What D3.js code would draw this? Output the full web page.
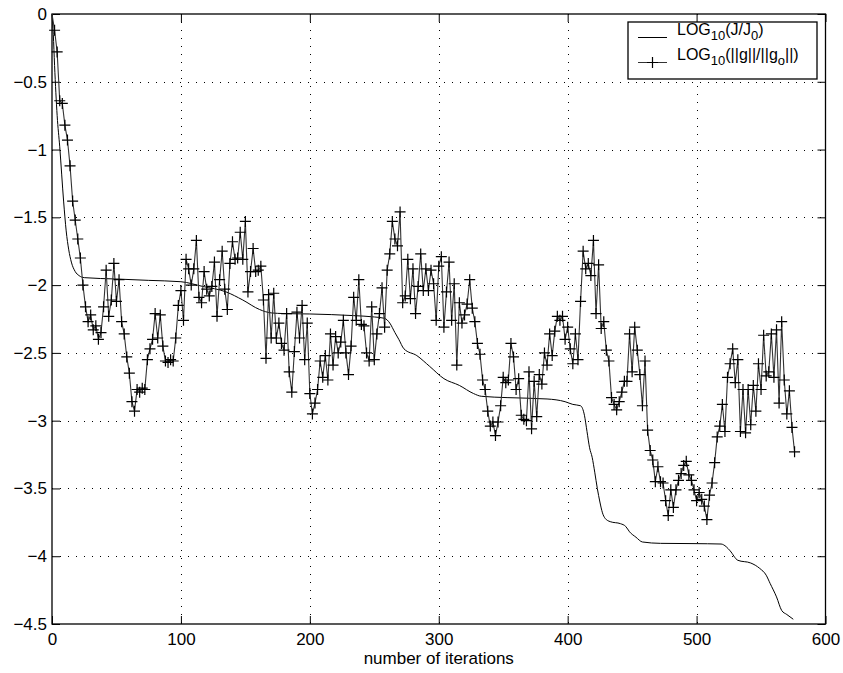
<!DOCTYPE html>
<html lang="en">
<head>
    <meta charset="UTF-8">
    <title>Convergence history</title>
    <script src="https://d3js.org/d3.v7.min.js"></script>
    <style>
        body { margin: 0; background: #fff; }
        text { font-family: "Liberation Sans", Arial, Helvetica, sans-serif; }
    </style>
</head>
<body>
    <script>
        // DATA
        // LOG10(||g||/||g0||), one value every 2 iterations (0, 2, 4, ... 576)
        var gStep = 2;
        var gValues = [
            0, -0.12, -0.28, -0.64, -0.66, -0.82, -0.93, -1.12, -1.38, -1.52,
            -1.66, -1.80, -2.00, -2.16, -2.27, -2.22, -2.33, -2.30, -2.40, -2.35,
            -2.16, -1.89, -2.23, -2.11, -1.84, -2.12, -1.96, -2.27, -2.36, -2.53,
            -2.65, -2.86, -2.93, -2.77, -2.79, -2.76, -2.77, -2.55, -2.47, -2.40,
            -2.21, -2.39, -2.22, -2.45, -2.56, -2.57, -2.55, -2.56, -2.39, -2.15,
            -2.04, -2.26, -1.81, -1.88, -2.00, -1.88, -1.67, -2.09, -2.13, -1.90,
            -2.03, -2.08, -2.01, -1.83, -2.23, -1.96, -1.75, -2.03, -2.18, -1.84,
            -1.68, -1.81, -1.80, -1.61, -1.81, -1.53, -2.05, -1.90, -1.73, -1.90,
            -1.89, -1.86, -2.11, -2.54, -2.07, -2.39, -2.06, -2.39, -2.28, -2.43,
            -2.48, -2.21, -2.64, -2.79, -2.49, -2.20, -2.39, -2.15, -2.55, -2.28,
            -2.80, -2.95, -2.87, -2.77, -2.56, -2.68, -2.52, -2.70, -2.36, -2.59,
            -2.38, -2.50, -2.42, -2.26, -2.50, -2.66, -2.45, -2.09, -2.26, -1.96,
            -2.29, -2.30, -2.50, -2.56, -2.16, -2.55, -2.36, -2.21, -2.02, -2.31,
            -1.89, -1.77, -1.53, -1.66, -1.71, -1.46, -2.13, -2.08, -1.81, -2.10,
            -1.88, -2.21, -2.01, -1.77, -2.04, -1.88, -2.04, -1.89, -1.99, -2.26,
            -1.86, -1.79, -2.31, -2.05, -1.83, -2.26, -1.99, -2.59, -2.13, -2.28,
            -2.22, -2.14, -1.96, -2.17, -2.27, -2.43, -2.51, -2.70, -2.77, -2.93,
            -3.04, -3.01, -3.11, -3.01, -2.89, -2.68, -2.72, -2.70, -2.43, -2.53,
            -2.77, -2.69, -2.96, -2.99, -3.00, -2.64, -3.06, -2.71, -2.97, -2.66,
            -2.73, -2.50, -2.59, -2.36, -2.52, -2.34, -2.23, -2.26, -2.23, -2.40,
            -2.31, -2.47, -2.58, -2.36, -2.55, -2.12, -1.75, -1.88, -1.84, -1.93,
            -1.67, -2.21, -1.85, -2.32, -2.27, -2.48, -2.56, -2.83, -2.88, -2.92,
            -2.86, -2.79, -2.71, -2.71, -2.36, -2.64, -2.31, -2.48, -2.66, -2.89,
            -2.56, -3.07, -3.22, -3.29, -3.45, -3.34, -3.45, -3.46, -3.59, -3.70,
            -3.51, -3.64, -3.51, -3.44, -3.39, -3.33, -3.30, -3.40, -3.44, -3.51,
            -3.59, -3.53, -3.58, -3.63, -3.73, -3.55, -3.46, -3.31, -3.12, -3.04,
            -2.88, -3.08, -2.68, -2.58, -2.47, -2.72, -2.55, -3.08, -2.77, -3.09,
            -2.77, -3.03, -2.74, -2.93, -2.58, -2.77, -2.37, -2.67, -2.64, -2.36,
            -2.68, -2.33, -2.87, -2.27, -2.70, -2.95, -2.78, -3.05, -3.23
        ];

        // LOG10(J/J0), read at these iterations
        var jIter = [0, 1, 2, 4, 6, 9, 11, 13, 15, 18, 21, 25, 50, 75, 100,
            117, 135, 148, 161, 170, 180, 200, 234, 250, 258, 262, 266, 269, 273, 283,
            293, 304, 316, 327, 333, 353, 384, 398, 404, 410, 413, 415, 417, 419, 421,
            423, 425, 427, 429, 433, 441, 445, 448, 453, 458, 472, 498, 519, 523, 526,
            532, 542, 549, 554, 557, 562, 566, 570, 575];
        var jValues = [0, -0.15, -0.38, -0.75, -0.98, -1.38, -1.60, -1.74, -1.83, -1.90, -1.93, -1.945, -1.955, -1.965, -1.975,
            -2.01, -2.05, -2.11, -2.18, -2.205, -2.21, -2.213, -2.225, -2.235, -2.245, -2.28, -2.35, -2.40, -2.47, -2.52,
            -2.60, -2.69, -2.74, -2.80, -2.82, -2.83, -2.84, -2.86, -2.88, -2.89, -2.96, -3.08, -3.20, -3.27, -3.38,
            -3.50, -3.60, -3.68, -3.72, -3.745, -3.76, -3.78, -3.82, -3.86, -3.895, -3.905, -3.907, -3.91, -3.93, -3.96,
            -4.03, -4.05, -4.09, -4.14, -4.20, -4.30, -4.40, -4.43, -4.465];

        var xTicks = [0, 100, 200, 300, 400, 500, 600];
        var yTicks = [0, -0.5, -1, -1.5, -2, -2.5, -3, -3.5, -4, -4.5];

        // LAYOUT
        var width = 843, height = 673;
        var plotLeft = 52, plotRight = 825.5, plotTop = 14, plotBottom = 624;
        var fontSize = "17px";

        var svg = d3.select("body").append("svg")
            .attr("width", width)
            .attr("height", height);

        svg.append("rect").attr("width", width).attr("height", height).attr("fill", "#fff");

        var x = d3.scaleLinear().domain([0, 600]).range([plotLeft, plotRight]);
        var y = d3.scaleLinear().domain([-4.5, 0]).range([plotBottom, plotTop]);

        // dotted grid
        var grid = svg.append("g")
            .attr("stroke", "#000")
            .attr("stroke-width", 1)
            .attr("stroke-dasharray", "1,7");
        grid.selectAll(".gx").data(xTicks.slice(1, -1)).enter().append("line")
            .attr("x1", d => Math.round(x(d)) + 0.5).attr("x2", d => Math.round(x(d)) + 0.5)
            .attr("y1", plotTop).attr("y2", plotBottom);
        grid.selectAll(".gy").data(yTicks.slice(1, -1)).enter().append("line")
            .attr("y1", d => Math.round(y(d)) + 0.5).attr("y2", d => Math.round(y(d)) + 0.5)
            .attr("x1", plotLeft).attr("x2", plotRight);

        // axes with inward ticks
        function styleAxis(g) {
            g.select(".domain").remove();
            g.selectAll(".tick line").attr("stroke", "#000").attr("stroke-width", 1);
            g.selectAll("text").attr("fill", "#000").style("font-size", fontSize)
                .style("font-family", "'Liberation Sans', Arial, Helvetica, sans-serif");
        }

        var fmt = d3.format("");

        svg.append("g").attr("transform", "translate(0," + plotBottom + ")")
            .call(d3.axisBottom(x).tickValues(xTicks).tickFormat(fmt).tickSizeInner(-8).tickSizeOuter(0).tickPadding(9))
            .call(styleAxis);
        svg.append("g").attr("transform", "translate(0," + plotTop + ")")
            .call(d3.axisTop(x).tickValues(xTicks).tickSizeInner(-8).tickSizeOuter(0).tickFormat(""))
            .call(styleAxis);
        svg.append("g").attr("transform", "translate(" + plotLeft + ",0)")
            .call(d3.axisLeft(y).tickValues(yTicks).tickFormat(fmt).tickSizeInner(-8).tickSizeOuter(0).tickPadding(5))
            .call(styleAxis);
        svg.append("g").attr("transform", "translate(" + plotRight + ",0)")
            .call(d3.axisRight(y).tickValues(yTicks).tickSizeInner(-8).tickSizeOuter(0).tickFormat(""))
            .call(styleAxis);

        // frame
        svg.append("rect")
            .attr("x", plotLeft).attr("y", plotTop)
            .attr("width", plotRight - plotLeft).attr("height", plotBottom - plotTop)
            .attr("fill", "none").attr("stroke", "#000").attr("stroke-width", 1.3);

        // x label
        svg.append("text")
            .attr("x", (plotLeft + plotRight) / 2).attr("y", 664)
            .attr("text-anchor", "middle")
            .style("font-size", fontSize)
            .text("number of iterations");

        // J curve
        var jData = jIter.map((it, i) => [it, jValues[i]]);
        svg.append("path")
            .datum(jData)
            .attr("fill", "none")
            .attr("stroke", "#000")
            .attr("stroke-width", 1)
            .attr("d", d3.line().x(d => x(d[0])).y(d => y(d[1])).curve(d3.curveMonotoneX));

        // gradient norm series
        var gData = gValues.map((v, i) => [i * gStep, v]);
        svg.append("path")
            .datum(gData)
            .attr("fill", "none")
            .attr("stroke", "#333")
            .attr("stroke-width", 1.1)
            .attr("d", d3.line().x(d => x(d[0])).y(d => y(d[1])));

        var arm = 5.5;
        var plus = d => "M" + (x(d[0]) - arm) + "," + y(d[1]) + "h" + (2 * arm) +
            "M" + x(d[0]) + "," + (y(d[1]) - arm) + "v" + (2 * arm);
        svg.append("g").selectAll("path").data(gData.slice(1)).enter().append("path")
            .attr("d", plus)
            .attr("stroke", "#000")
            .attr("stroke-width", 1.2)
            .attr("fill", "none");

        // legend
        var lg = svg.append("g");
        lg.append("rect")
            .attr("x", 628).attr("y", 22).attr("width", 189).attr("height", 57)
            .attr("fill", "#fff").attr("stroke", "#000").attr("stroke-width", 1.3);
        lg.append("line").attr("x1", 638).attr("x2", 667).attr("y1", 37.5).attr("y2", 37.5)
            .attr("stroke", "#000").attr("stroke-width", 1);
        lg.append("line").attr("x1", 638).attr("x2", 667).attr("y1", 62.5).attr("y2", 62.5)
            .attr("stroke", "#333").attr("stroke-width", 1);
        lg.append("path").attr("d", "M" + (652.5 - arm) + ",62.5h" + (2 * arm) + "M652.5," + (62.5 - arm) + "v" + (2 * arm))
            .attr("stroke", "#000").attr("stroke-width", 1.2);

        function legendText(yy, parts) {
            var t = lg.append("text").attr("x", 677).attr("y", yy).style("font-size", "16px");
            parts.forEach(function(p) {
                t.append("tspan")
                    .attr("dy", p[1])
                    .style("font-size", p[2] ? "13px" : "16px")
                    .text(p[0]);
            });
        }
        legendText(35, [["LOG", 0], ["10", 5, true], ["(J/J", -5], ["0", 5, true], [")", -5]]);
        legendText(60, [["LOG", 0], ["10", 5, true], ["(||g||/||g", -5], ["o", 5, true], ["||)", -5]]);
    </script>
</body>
</html>
